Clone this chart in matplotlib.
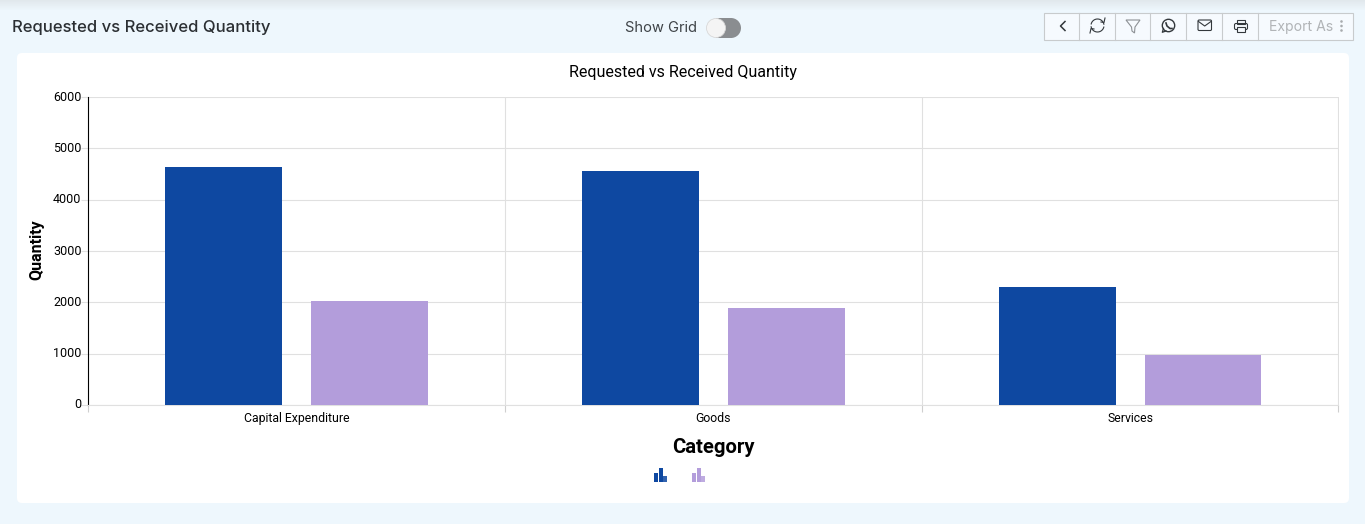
import matplotlib
matplotlib.use('Agg')
import numpy as np
import matplotlib.pyplot as plt
from matplotlib.patches import FancyBboxPatch, Rectangle, Circle, Polygon
from matplotlib.transforms import ScaledTranslation

categories = ['Capital Expenditure', 'Goods', 'Services']
requested = [4640, 4560, 2295]
received = [2030, 1885, 975]
yticks = [0, 1000, 2000, 3000, 4000, 5000, 6000]

W, H = 1365, 524
BLUE = '#0e48a1'
PURPLE = '#b39ddb'
GRID = '#e0e0e0'

plt.rcParams['font.family'] = ['Roboto', 'DejaVu Sans']

fig = plt.figure(figsize=(W / 100, H / 100), dpi=100, facecolor='#eef7fd')

# page chrome drawn in pixel coordinates
bg = fig.add_axes([0, 0, 1, 1], zorder=0)
bg.set_xlim(0, W)
bg.set_ylim(H, 0)
bg.axis('off')

for i in range(10):
    bg.add_patch(Rectangle((0, i), W, 1, fc='#d5dadd', ec='none', alpha=0.5 * (1 - i / 10)))
bg.add_patch(FancyBboxPatch((17, 53), 1332, 450, boxstyle='round,pad=0,rounding_size=5',
                            fc='white', ec='none', mutation_aspect=1))

bg.text(12, 27.5, 'Requested vs Received Quantity', fontsize=12, family='Inter',
        color='#2b2f33', va='center', ha='left', fontweight='medium')
bg.text(625, 27.5, 'Show Grid', fontsize=10.6, family='Inter', color='#3f4448', va='center', ha='left')

# toggle
bg.add_patch(Rectangle((716, 18), 15, 20, fc='#8a8d90', ec='none'))
bg.add_patch(Circle((731, 28), 10, fc='#8a8d90', ec='none'))
bg.add_patch(Circle((716, 28), 9.5, fc='#f4f4f4', ec='#d8d8d8', lw=0.6, zorder=5))

# toolbar
edges = [1044, 1079, 1115, 1150, 1186, 1222, 1258, 1353]
bg.add_patch(Rectangle((edges[0], 12.5), edges[-1] - edges[0], 27, fc='#f6fafe', ec='#c8cbcd', lw=0.8))
for e in edges[1:-1]:
    bg.plot([e, e], [12.5, 39.5], color='#c8cbcd', lw=0.8)

ic = '#33383c'
bg.plot([1065, 1060.5, 1065], [21.5, 26, 30.5], color=ic, lw=1.1)
# refresh
t = np.linspace(0.2, 2.9, 30)
bg.plot(1097.5 + 6.5 * np.cos(t), 25.5 - 6.5 * np.sin(t), color=ic, lw=0.8)
bg.plot(1097.5 - 6.5 * np.cos(t), 25.5 + 6.5 * np.sin(t), color=ic, lw=0.8)
bg.plot([1101, 1104, 1105], [22, 22.5, 18], color=ic, lw=0.8)
bg.plot([1094, 1091, 1090], [29, 28.5, 33], color=ic, lw=0.8)
# funnel
bg.add_patch(Polygon([(1126, 20), (1140, 20), (1135, 27), (1134.5, 33), (1132, 31), (1131.5, 27)],
                     closed=True, fc='none', ec='#8d9195', lw=0.8))
# whatsapp
bg.add_patch(Circle((1168.5, 25.5), 6.2, fc='none', ec=ic, lw=1))
bg.plot([1163.5, 1162.3, 1166], [28.5, 32.3, 31], color=ic, lw=0.9)
bg.plot([1166, 1167, 1170, 1172], [23, 26, 28.5, 28.5], color=ic, lw=1.2)
# mail
bg.add_patch(FancyBboxPatch((1198, 20), 13.5, 10.5, boxstyle='round,pad=0,rounding_size=1.2',
                            fc='none', ec=ic, lw=0.8))
bg.plot([1198.5, 1204.7, 1211], [21.5, 26, 21.5], color=ic, lw=0.8)
# printer
bg.add_patch(Rectangle((1237, 19.5), 8, 4, fc='none', ec=ic, lw=0.8))
bg.add_patch(FancyBboxPatch((1234.5, 23.5), 13, 6, boxstyle='round,pad=0,rounding_size=1.5',
                            fc='none', ec=ic, lw=0.8))
bg.add_patch(Rectangle((1237, 27), 8, 5, fc='#f6fafe', ec=ic, lw=0.8, zorder=4))
# export
bg.text(1269, 26.5, 'Export As', fontsize=10.1, family='Inter', color='#b1b4b7', va='center', ha='left')
for y in [21.5, 26, 30.5]:
    bg.add_patch(Circle((1341.5, y), 1.3, fc='#a8abae', ec='none'))

# chart
left, right, top, bottom = 88.4, 1338.5, 97, 405
ax = fig.add_axes([left / W, 1 - bottom / H, (right - left) / W, (bottom - top) / H], zorder=2)
ax.patch.set_alpha(0)

x = np.arange(len(categories))
width = 0.28
offset = 0.175
ax.bar(x - offset, requested, width, color=BLUE, zorder=3)
ax.bar(x + offset, received, width, color=PURPLE, zorder=3)

ax.set_xlim(-0.5, len(categories) - 0.5)
ax.set_ylim(0, 6000)
ax.set_yticks(yticks)
ax.set_yticklabels([str(v) for v in yticks], fontsize=9, color='black')
ax.tick_params(axis='y', length=5, width=0.8, color=GRID, pad=0)
# the labels sit a little above their gridlines
for lab in ax.get_yticklabels():
    lab.set_transform(lab.get_transform() + ScaledTranslation(0, 1.5 / 100, fig.dpi_scale_trans))
ax.set_xticks(np.arange(len(categories) + 1) - 0.5)
ax.set_xticklabels([])
ax.tick_params(axis='x', length=5, width=0.8, color='#cfcfcf')
ax.grid(True, color=GRID, lw=0.8, zorder=0)
ax.set_axisbelow(True)
for s in ['top', 'right']:
    ax.spines[s].set_visible(False)
ax.spines['left'].set_color('black')
ax.spines['left'].set_linewidth(0.8)
ax.spines['bottom'].set_color(GRID)
ax.spines['bottom'].set_linewidth(0.8)

for i, c in enumerate(categories):
    ax.annotate(c, (i, 0), xytext=(0, -17 * 0.72), textcoords='offset points',
                ha='center', va='baseline', fontsize=8.8, color='black')

bg.text(683, 72, 'Requested vs Received Quantity', fontsize=11.5, color='black', ha='center', va='center')
bg.text(37, 250, 'Quantity', fontsize=11.5, fontweight='bold', rotation=90, ha='center', va='center')
bg.text(713.5, 447.5, 'Category', fontsize=14.6, fontweight='bold', ha='center', va='center')

# legend glyphs
for x0, col in [(654, BLUE), (692, PURPLE)]:
    bg.add_patch(Rectangle((x0, 473), 4, 9, fc=col, ec='none'))
    bg.add_patch(Rectangle((x0 + 4.5, 468), 4, 14, fc=col, ec='none'))
    bg.add_patch(Rectangle((x0 + 9, 476), 4, 6, fc=col, ec='none', alpha=0.85))

fig.savefig('out.png', dpi=100, facecolor=fig.get_facecolor())
